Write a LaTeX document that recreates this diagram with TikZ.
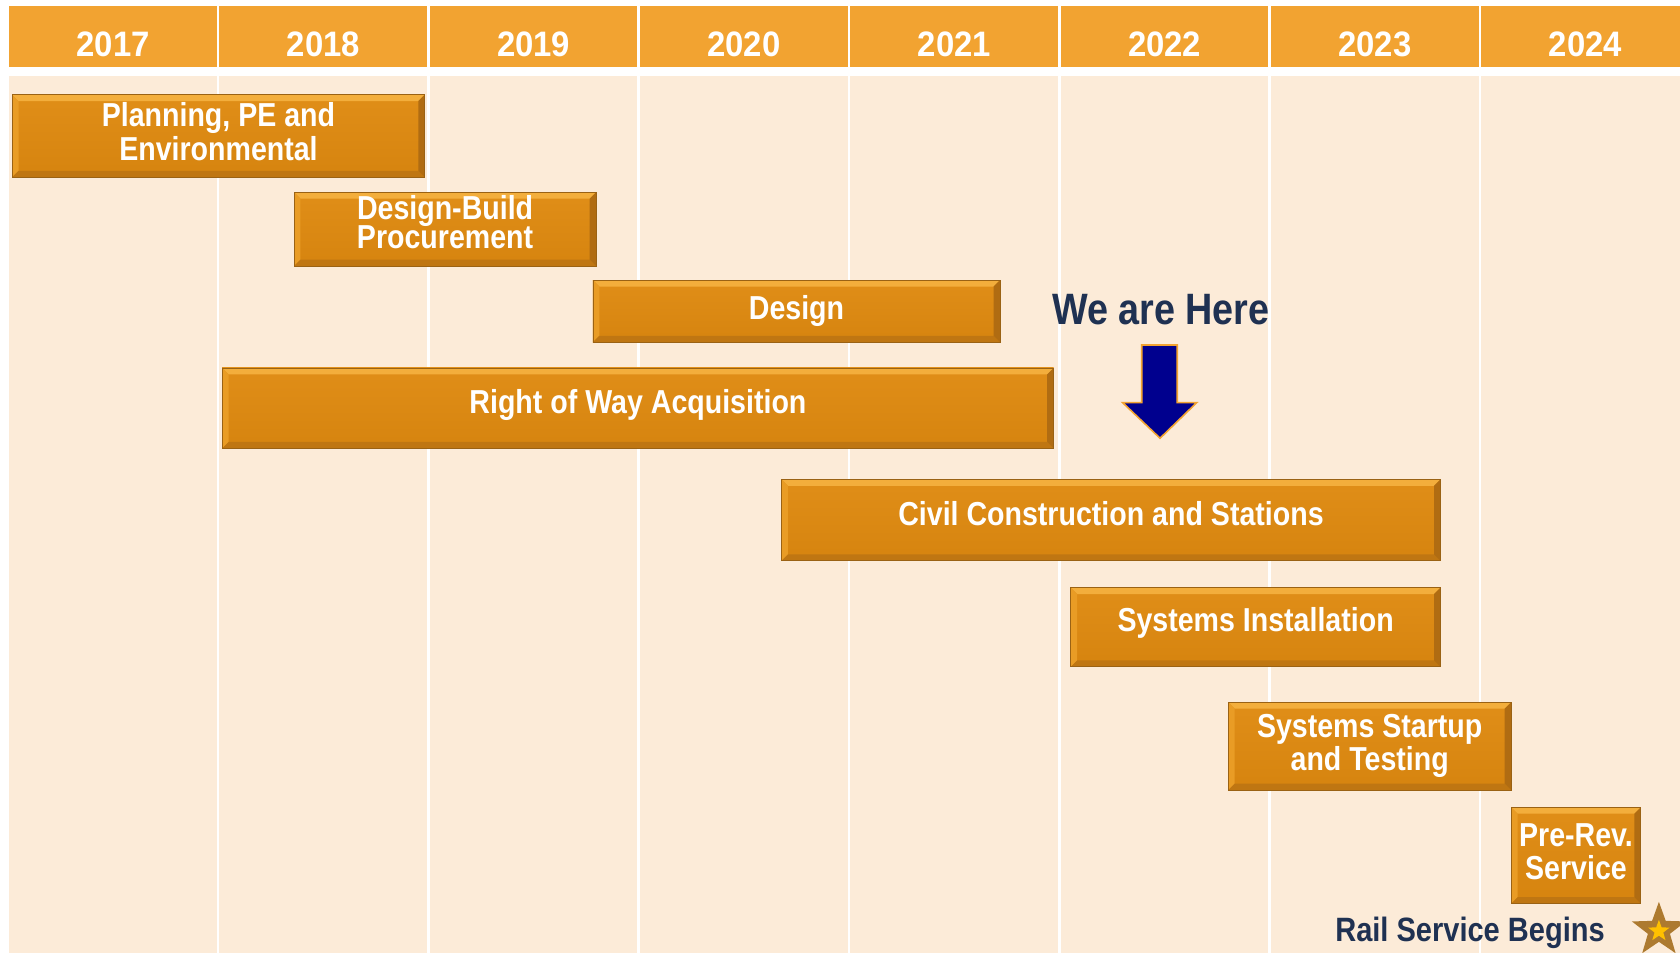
\documentclass[tikz,border=0pt]{standalone}
\usepackage{fontspec}
\setmainfont{Liberation Sans}
\newfontfamily\boxfont[FakeStretch=0.86]{Liberation Sans}
\newfontfamily\yearfont[FakeStretch=0.93]{Liberation Sans}
\usetikzlibrary{shapes.geometric}
\definecolor{hdr}{HTML}{F2A331}
\definecolor{bodyc}{HTML}{FCEBD8}
\definecolor{barfillA}{HTML}{E08E18}
\definecolor{barfillB}{HTML}{D6840F}
\definecolor{bartop}{HTML}{F3AE3C}
\definecolor{barleft}{HTML}{E99C25}
\definecolor{barbottom}{HTML}{BF7612}
\definecolor{barright}{HTML}{B06C12}
\definecolor{baredge}{HTML}{9A6214}
\definecolor{navy}{HTML}{1F3152}
\definecolor{arrowblue}{HTML}{00008E}
\definecolor{starbrown}{HTML}{AD7A2F}
\definecolor{staryellow}{HTML}{FFC000}
\tikzset{
  year/.style={text=white, anchor=base, inner sep=0pt,
    font=\yearfont\bfseries\fontsize{33}{33}\selectfont},
  bar/.style={top color=barfillA, bottom color=barfillB, draw=baredge,
    line width=0.8pt, inner sep=0pt, anchor=north west, text=white,
    align=center, font=\boxfont\bfseries\fontsize{31}{31}\selectfont,
    path picture={
      \path (path picture bounding box.north west) coordinate (bnw)
            (path picture bounding box.north east) coordinate (bne)
            (path picture bounding box.south west) coordinate (bsw)
            (path picture bounding box.south east) coordinate (bse);
      \fill[bartop] (bnw) -- (bne) -- ([shift={(-6,6)}]bne) -- ([shift={(6,6)}]bnw) -- cycle;
      \fill[barleft] (bnw) -- ([shift={(6,6)}]bnw) -- ([shift={(6,-6)}]bsw) -- (bsw) -- cycle;
      \fill[barbottom] (bsw) -- ([shift={(6,-6)}]bsw) -- ([shift={(-6,-6)}]bse) -- (bse) -- cycle;
      \fill[barright] (bse) -- ([shift={(-6,-6)}]bse) -- ([shift={(-6,6)}]bne) -- (bne) -- cycle;
    }},
  navytext/.style={text=navy, inner sep=0pt, anchor=base},
  starshape/.style={star, star points=5, star point ratio=2.45, inner sep=0pt}
}
\begin{document}
\begin{tikzpicture}[x=1pt,y=-1pt]
\useasboundingbox (0,0) rectangle (1568,889);
\clip (0,0) rectangle (1568,889);
\fill[white] (0,0) rectangle (1568,889);
% header and body
\fill[hdr] (8,5.6) rectangle (1568,62.8);
\fill[bodyc] (8,70.5) rectangle (1568,889);
\foreach \i in {0,...,6}
  \draw[white, line width=2.6pt] ({203.5+196.3*\i},5.6) -- ({203.5+196.3*\i},889);
% years
\foreach \yr [count=\i from 0] in {2017,...,2024}
  \node[year] (y\yr) at ({105.5+196.3*\i},52.3) {\yr};
% bars
\node[bar, minimum width=385pt, minimum height=77pt, text depth=8.5pt] (plan) at (11,88) {Planning, PE and\\Environmental};
\node[bar, minimum width=282pt, minimum height=69pt, text depth=13pt] (dbp) at (274,179) {Design-Build\\[-4pt]Procurement};
\node[bar, minimum width=380pt, minimum height=58pt, text depth=7pt] (design) at (553,261) {Design};
\node[bar, minimum width=776pt, minimum height=75pt, text depth=13pt] (row) at (207,343) {Right of Way Acquisition};
\node[bar, minimum width=615pt, minimum height=76pt, text depth=12.3pt] (civil) at (729,447) {Civil Construction and Stations};
\node[bar, minimum width=345pt, minimum height=74pt, text depth=15pt] (sysinst) at (999,548) {Systems Installation};
\node[bar, minimum width=264pt, minimum height=82pt] (startup) at (1146,655) {Systems Startup\\and Testing};
\node[bar, minimum width=121pt, minimum height=90pt, text depth=7pt] (prerev) at (1410,753) {Pre-Rev.\\Service};
% we are here
\node[navytext, font=\boxfont\bfseries\fontsize{41}{41}\selectfont] (here) at (1083.5,303.3) {We are Here};
\draw[fill=arrowblue, draw=hdr, line width=1.5pt, line join=miter]
  (1065.6,322) -- (1098.8,322) -- (1098.8,375.8) -- (1116.9,375.8) -- (1082.7,409)
  -- (1047.8,375.8) -- (1065.6,375.8) -- cycle;
% rail service
\node[navytext, font=\boxfont\bfseries\fontsize{31.5}{31.5}\selectfont] (rail) at (1372,879) {Rail Service Begins};
\node[starshape, fill=starbrown, minimum size=53pt] (star) at (1548.3,868.2) {};
\node[starshape, fill=staryellow, minimum size=21pt] (starin) at (1548.3,869) {};
\end{tikzpicture}
\end{document}
